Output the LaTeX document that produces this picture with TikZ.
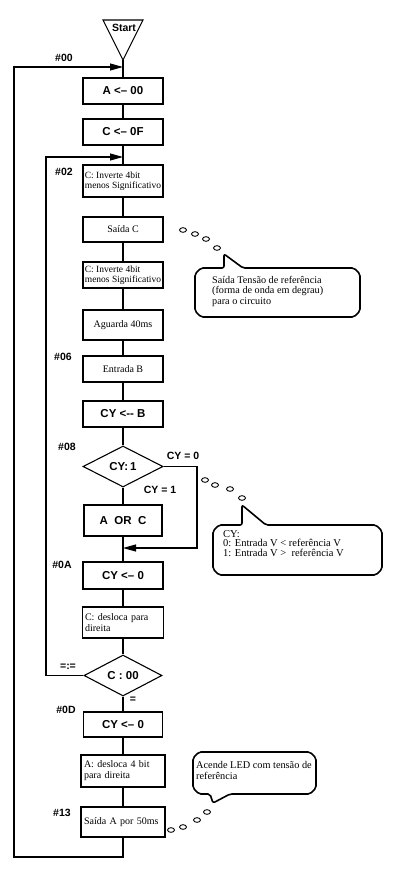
\documentclass[tikz,border=0pt]{standalone}
\usepackage{fontspec}
\setmainfont{Liberation Serif}
\setsansfont{Liberation Sans}
\usetikzlibrary{shapes.geometric,arrows.meta}
\begin{document}
\begin{tikzpicture}[x=1pt,y=-1pt,
  ln/.style={line width=1.1pt},
  box/.style={draw,line width=1.1pt,minimum width=80pt,minimum height=26pt,inner sep=1.5pt,font=\fontsize{10}{11}\selectfont,align=left},
  bbox/.style={box,font=\sffamily\bfseries\fontsize{11.5}{13}\selectfont},
  dia/.style={diamond,draw,line width=1.1pt,minimum width=80pt,minimum height=41pt,inner sep=0pt,font=\sffamily\bfseries\fontsize{11.5}{13}\selectfont},
  lbl/.style={font=\sffamily\bfseries\fontsize{10.5}{12}\selectfont,inner sep=0pt},
  arr/.style={ln,-{Triangle[length=13pt,width=7pt]}},
  bub/.style={line width=0.9pt},
  call/.style={line width=1.6pt,rounded corners=2pt},
  ctext/.style={align=left,inner sep=0pt,anchor=north west}
]
\fill[white] (0,0) rectangle (400,891);
\useasboundingbox (0,0) rectangle (400,891);

% start
\draw[ln] (103,20) -- (143,20) -- (123,60) -- cycle;
\node[font=\sffamily\bfseries\fontsize{10.5}{12}\selectfont,inner sep=0pt] (start) at (124,28) {Start};
\coordinate (st) at (123,60);

% boxes
\node[bbox] (a) at (123,91) {A <-- 00};
\node[bbox] (c) at (123,132) {C <-- 0F};
\node[box,minimum height=32pt,font=\fontsize{9.5}{10.5}\selectfont] (inv1) at (123,181) {C: Inverte 4bit\\menos Significativo};
\node[box,minimum height=25pt] (saida) at (123,229.5) {Saída C};
\node[box,font=\fontsize{9.5}{10.5}\selectfont] (inv2) at (123,275) {C: Inverte 4bit\\menos Significativo};
\node[box,minimum height=30pt] (agu) at (123,325) {Aguarda 40ms};
\node[box] (entb) at (123,369) {Entrada B};
\node[bbox] (cyb) at (123,414) {CY <-{}- B};
\node[dia] (d1) at (123,466.5) {CY:\,1};
\node[bbox,minimum width=78pt,minimum height=31pt] (aorc) at (123,520.5) {A\ \ OR\ \ C};
\node[bbox,minimum height=27pt] (cy0) at (123,575.5) {CY <-- 0};
\node[box,minimum width=81pt,minimum height=31pt,text width=76pt] (desl) at (123,622.5) {\makebox[76pt][s]{C: desloca para}\\direita};
\node[dia,minimum width=78pt] (d2) at (123,675.5) {C : 00};
\node[bbox,minimum width=79pt,minimum height=25pt] (cy02) at (123,724.5) {CY <-- 0};
\node[box,minimum width=84pt,minimum height=32pt,text width=78pt] (adesl) at (123,771) {A: desloca 4 bit\\para direita};
\node[box,minimum width=84pt,minimum height=30pt,text width=78pt] (sa) at (123,822) {Saída A por 50ms};

% main connectors
\draw[ln] (st) -- (a.north);
\draw[ln] (a) -- (c);
\draw[ln] (c) -- (inv1);
\draw[ln] (inv1) -- (saida);
\draw[ln] (saida) -- (inv2);
\draw[ln] (inv2) -- (agu);
\draw[ln] (agu) -- (entb);
\draw[ln] (entb) -- (cyb);
\draw[ln] (cyb) -- (d1);
\draw[ln] (d1) -- (aorc);
\draw[ln] (aorc) -- (cy0);
\draw[ln] (cy0) -- (desl);
\draw[ln] (desl) -- (d2);
\draw[ln] (d2) -- (cy02);
\draw[ln] (cy02) -- (adesl);
\draw[ln] (adesl) -- (sa);

% loop 1
\coordinate (j1) at (123,67);
\coordinate (b1) at (123,857);
\coordinate (bl) at (14,857);
\coordinate (tl) at (14,67);
\draw[arr] (sa.south) -- (b1) -- (bl) -- (tl) -- (j1);

% loop 2
\coordinate (j2) at (123,157);
\coordinate (l2b) at (46,675.5);
\coordinate (l2t) at (46,157);
\draw[arr] (d2.west) -- (l2b) -- (l2t) -- (j2);

% CY=0 branch
\coordinate (r1) at (197,466.5);
\coordinate (r2) at (197,548);
\coordinate (j3) at (123,548);
\draw[arr] (d1.east) -- (r1) -- (r2) -- (j3);

% labels
\node[lbl] (l00) at (64,58) {\#00};
\node[lbl] (l02) at (64,172) {\#02};
\node[lbl] (l06) at (63,357) {\#06};
\node[lbl] (l08) at (67,447) {\#08};
\node[lbl] (l0a) at (62,565) {\#0A};
\node[lbl] (lne) at (68,667) {=:=};
\node[lbl] (leq) at (133,700) {=};
\node[lbl] (l0d) at (66,710) {\#0D};
\node[lbl] (l13) at (62,813) {\#13};
\node[lbl] (cy0l) at (183,456) {CY = 0};
\node[lbl] (cy1l) at (160,490) {CY = 1};

% callout 1
\draw[call] (201,268) -- (224,268) -- (224,254) -- (243,268) -- (354,268) -- (360,274) -- (360,311) -- (354,317) -- (201,317) -- (195,311) -- (195,274) -- cycle;
\node[ctext,font=\fontsize{10.2}{10.6}\selectfont] (t1) at (212,276) {Saída Tensão de referência\\(forma de onda em degrau)\\para o circuito};
\foreach \p in {(183,230),(195,234),(206,239),(217,248)}
  \draw[bub] \p ellipse [x radius=3.5, y radius=2.3];

% callout 2
\draw[call] (219,525) -- (242,525) -- (242,505) -- (266,525) -- (376,525) -- (382,531) -- (382,569) -- (376,575) -- (219,575) -- (213,569) -- (213,531) -- cycle;
\node[ctext,font=\fontsize{10.5}{9.8}\selectfont] (t2) at (223,530) {CY:\\0: Entrada V < referência V\\1: Entrada V >\ \ referência V};
\foreach \p in {(205,480),(215,485),(230,489),(242,498)}
  \draw[bub] \p ellipse [x radius=3.5, y radius=2.3];

% callout 3
\draw[call] (199,752) -- (310,752) -- (316,758) -- (316,788) -- (310,794) -- (230,794) -- (213,803) -- (210,794) -- (199,794) -- (193,788) -- (193,758) -- cycle;
\node[ctext,font=\fontsize{10.3}{11}\selectfont] (t3) at (196,761) {Acende LED com tensão de\\referência};
\foreach \p in {(171,830),(183,827),(197,820),(207,812)}
  \draw[bub] \p ellipse [x radius=3.5, y radius=2.3];
\end{tikzpicture}
\end{document}
